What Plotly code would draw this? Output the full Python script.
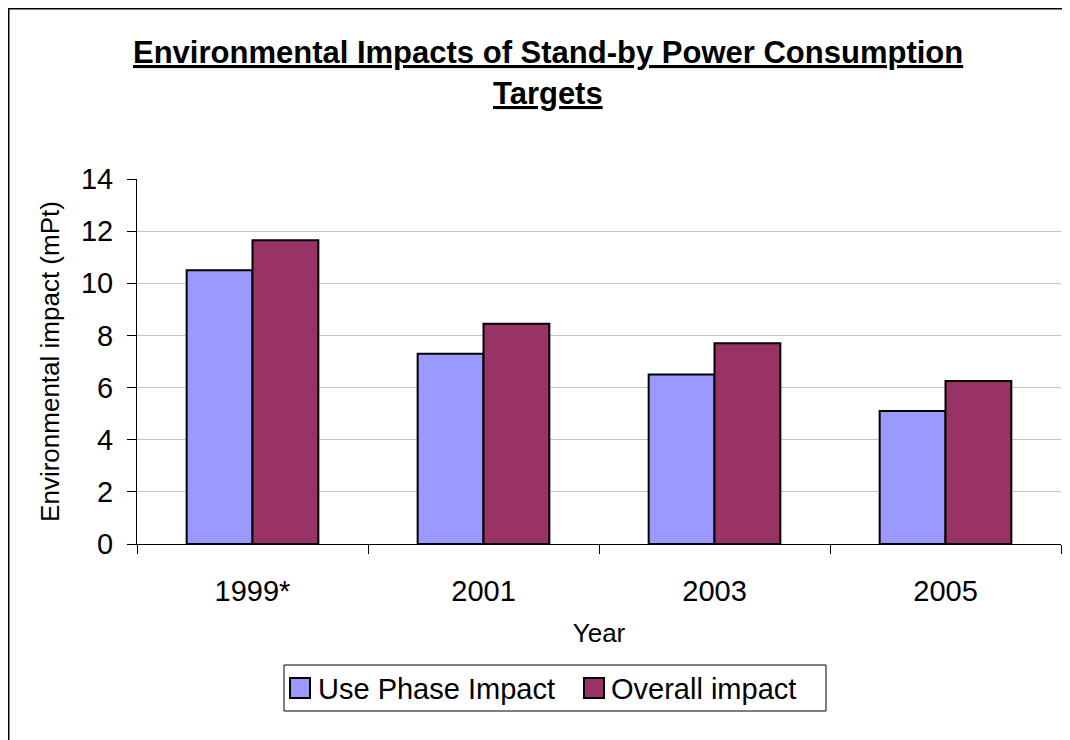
import plotly.graph_objects as go

years = ["1999*", "2001", "2003", "2005"]
series_names = ["Use Phase Impact", "Overall impact"]
use_phase = [10.5, 7.3, 6.5, 5.1]
overall = [11.65, 8.45, 7.7, 6.25]
colors = ["#9999FF", "#993366"]
y_ticks = [0, 2, 4, 6, 8, 10, 12, 14]

W, H = 1070, 740
OFF = 8  # page body margin
L, R, T, B = 137 - OFF, 1061 - OFF, 179 - OFF, 544 - OFF
FONT = "Liberation Sans, Arial, sans-serif"

def px(xp):
    return (xp - OFF - L) / (R - L)

def py(yp):
    return (B - (yp - OFF)) / (B - T)

fig = go.Figure()
for name, vals, c in zip(series_names, [use_phase, overall], colors):
    fig.add_trace(go.Bar(
        x=years, y=vals, name=name,
        marker=dict(color=c, line=dict(color="black", width=2)),
        showlegend=False,
    ))

fig.update_layout(
    width=W, height=H,
    margin=dict(l=L, r=W - R, t=T, b=H - B, pad=0),
    paper_bgcolor="white", plot_bgcolor="white",
    barmode="group", bargap=0.43, bargroupgap=0,
    font=dict(family=FONT, color="black"),
    xaxis=dict(
        type="category", showline=True, linecolor="black", linewidth=1,
        ticks="outside", tickson="boundaries", ticklen=9, tickcolor="black",
        tickfont=dict(size=29), showgrid=False, ticklabelstandoff=21,
        title=dict(text="Year", font=dict(size=26), standoff=18),
    ),
    yaxis=dict(
        range=[0, 14], tickvals=y_ticks, showline=True, linecolor="black", linewidth=1,
        ticks="outside", ticklen=9, tickcolor="black", tickfont=dict(size=29),
        showgrid=True, gridcolor="#c4c4c4", gridwidth=1, zeroline=False,
        ticklabelstandoff=8,
        title=dict(text="Environmental impact (mPt)", font=dict(size=26), standoff=13),
    ),
)

# Title (two lines, bold underlined)
fig.add_annotation(text="<b><u>Environmental Impacts of Stand-by Power Consumption</u></b>",
                   xref="paper", yref="paper", x=px(548), y=py(52), showarrow=False,
                   font=dict(size=31), xanchor="center", yanchor="middle")
fig.add_annotation(text="<b><u>Targets</u></b>",
                   xref="paper", yref="paper", x=px(548), y=py(93), showarrow=False,
                   font=dict(size=31), xanchor="center", yanchor="middle")

# Outer chart border (left and top visible)
fig.add_shape(type="rect", xref="paper", yref="paper",
              x0=px(8.75), x1=px(1100), y0=py(780), y1=py(8.75),
              line=dict(color="black", width=1.5), fillcolor="rgba(0,0,0,0)", layer="below")

# Manual legend
fig.add_shape(type="rect", xref="paper", yref="paper",
              x0=px(284), x1=px(826), y0=py(711), y1=py(665),
              line=dict(color="black", width=1), fillcolor="white")
sq_x = [290, 584]
txt_x = [316, 609]
for name, c, sx, tx in zip(series_names, colors, sq_x, txt_x):
    fig.add_shape(type="rect", xref="paper", yref="paper",
                  x0=px(sx), x1=px(sx + 20), y0=py(698), y1=py(678),
                  line=dict(color="black", width=2), fillcolor=c)
    fig.add_annotation(text=name, xref="paper", yref="paper", x=px(tx), y=py(689),
                       showarrow=False, xanchor="left", yanchor="middle",
                       font=dict(size=29))

fig.write_html("out.html")
